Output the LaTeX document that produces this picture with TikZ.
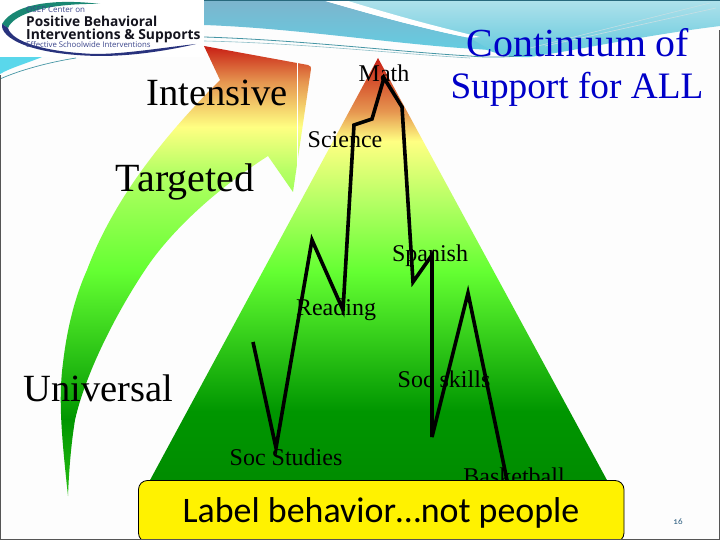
\documentclass[tikz,border=0pt]{standalone}
\usepackage{fontspec}
\setmainfont{Liberation Serif}
\newfontfamily\carlito[Numbers=OldStyle]{Carlito}
\newfontfamily\logofont{Open Sans}
\definecolor{pagebg}{RGB}{253,253,253}
\definecolor{edgegray}{RGB}{85,85,85}
\definecolor{titleblue}{RGB}{0,0,200}
\definecolor{pagenum}{RGB}{40,90,125}
\definecolor{logotext}{RGB}{20,20,30}
\definecolor{logotint}{RGB}{60,70,140}
\definecolor{logoteal}{RGB}{25,135,115}
\definecolor{logonavy}{RGB}{40,50,125}
\definecolor{cyanbit}{RGB}{90,215,235}
\definecolor{thinteal}{RGB}{70,150,165}
\definecolor{topedge}{RGB}{40,105,125}
\definecolor{sDark}{RGB}{0,140,0}
\definecolor{sGreen}{RGB}{0,150,0}
\definecolor{sLime}{RGB}{100,255,50}
\definecolor{sPale}{RGB}{180,255,100}
\definecolor{sYellow}{RGB}{255,255,130}
\definecolor{sOrange}{RGB}{230,150,80}
\definecolor{sRed}{RGB}{200,30,20}
\definecolor{sTip}{RGB}{40,190,20}
\definecolor{bA}{RGB}{100,205,225}
\definecolor{bB}{RGB}{125,180,205}
\definecolor{bC}{RGB}{95,200,220}
\definecolor{bD}{RGB}{175,225,235}
\pgfdeclareverticalshading{peakshade}{100bp}{
 color(0bp)=(sDark);
 color(25bp)=(sDark);
 color(33.3bp)=(sGreen);
 color(49.8bp)=(sLime);
 color(58bp)=(sPale);
 color(65.2bp)=(sYellow);
 color(68.7bp)=(sOrange);
 color(75bp)=(sRed);
 color(100bp)=(sRed)}
\pgfdeclareverticalshading{arrowshade}{100bp}{
 color(0bp)=(sTip);
 color(25bp)=(sTip);
 color(33.5bp)=(sGreen);
 color(50bp)=(sLime);
 color(61bp)=(sPale);
 color(66bp)=(sYellow);
 color(71bp)=(sOrange);
 color(75bp)=(sRed);
 color(100bp)=(sRed)}
\pgfdeclareverticalshading{bandleft}{100bp}{
 color(0bp)=(bA);
 color(25bp)=(bA);
 color(75bp)=(bB);
 color(100bp)=(bB)}
\pgfdeclareverticalshading{bandright}{100bp}{
 color(0bp)=(bC);
 color(25bp)=(bC);
 color(75bp)=(bD);
 color(100bp)=(bD)}
\tikzset{
 biglabel/.style={anchor=base,inner sep=0pt,font=\fontsize{38.5}{40}\selectfont,text=black},
 smalllabel/.style={anchor=base,inner sep=0pt,font=\fontsize{24}{26}\selectfont,text=black},
 peakline/.style={draw=black,line width=3.6pt,line join=miter,miter limit=6},
 logotxt/.style={anchor=base west,inner sep=0pt,text=logotext}
}
\begin{document}
\begin{tikzpicture}[x=1pt,y=-1pt]
\useasboundingbox (0,0) rectangle (720,540);
\fill[pagebg] (0,0) rectangle (720,540);
% top bands
\shade[shading=bandright] (340,0) -- (720,0) -- (720,26) .. controls (640,36) and (590,48) .. (530,57) .. controls (510,58) and (480,52) .. (460,34) -- cycle;
\shade[shading=bandleft] (204,0) -- (322,0) .. controls (370,14) and (420,28) .. (470,38) -- (490,50) -- (460,48) .. controls (380,42) and (290,28) .. (204,25) -- cycle;
\fill[white] (322,0) -- (345,0) .. controls (390,14) and (430,25) .. (480,37) -- (470,38) .. controls (420,28) and (370,14) .. (322,0) -- cycle;
\draw[thinteal,line width=0.8pt] (204,37) .. controls (300,40) and (400,52) .. (470,56) .. controls (490,58) and (510,57) .. (530,55);
\draw[thinteal!60,line width=0.6pt] (204,41) .. controls (300,43) and (400,54) .. (470,58);
\draw[white!70!thinteal,line width=0.6pt] (530,48) -- (710,3);
\draw[white!70!thinteal,line width=0.6pt] (545,46) -- (716,8);
\fill[topedge] (204,0) rectangle (720,1.5);
% lower left swoosh
\fill[cyanbit] (0,57) -- (42,57) .. controls (25,64) and (10,68) .. (0,74) -- cycle;
\draw[thinteal,line width=0.7pt] (0,79) .. controls (20,70) and (50,62) .. (76,58);
% logo
\fill[white] (0,0) rectangle (204,57);
\fill[logoteal] (100,4) .. controls (60,-1) and (15,2) .. (2,24) -- (8,28) .. controls (14,13) and (50,3) .. (100,4) -- cycle;
\fill[logonavy] (2,24) .. controls (0,38) and (30,55) .. (100,56) .. controls (135,56) and (170,50) .. (196,44) .. controls (160,48) and (125,54) .. (95,54) .. controls (45,52) and (12,42) .. (8,28) -- cycle;
\node[logotxt,font=\logofont\fontsize{8}{9}\selectfont,text=logotint] (logoa) at (26,13) {OSEP Center on};
\node[logotxt,font=\logofont\fontsize{13.7}{15}\selectfont\bfseries] (logob) at (26,27) {Positive Behavioral};
\node[logotxt,font=\logofont\fontsize{13.9}{15}\selectfont\bfseries] (logoc) at (26,39.5) {Interventions \& Supports};
\node[logotxt,font=\logofont\fontsize{7.8}{8}\selectfont,text=logotint] (logod) at (26,48) {Effective Schoolwide Interventions};
% arrow
\shade[shading=arrowshade] (68,496) .. controls (62,440) and (58,400) .. (63,363) .. controls (68,320) and (78,290) .. (87,270) .. controls (115,195) and (170,130) .. (220,80) -- (204,46) -- (308,65) .. controls (311,66) and (311,67) .. (311,69) -- (293,192) -- (268,156) .. controls (215,190) and (170,232) .. (145,270) .. controls (115,315) and (85,375) .. (75,420) .. controls (71,445) and (69,470) .. (68,496) -- cycle;
\draw[white,line width=0.7pt] (297,63) -- (297,188);
% peak
\shade[shading=peakshade] (378,58) -- (608,482) -- (149,482) -- cycle;
% zigzag
\coordinate (z1) at (253,342);
\coordinate (z2) at (276,448);
\coordinate (z3) at (312,240);
\coordinate (z4) at (343,310);
\coordinate (z5) at (354,125);
\coordinate (z6) at (372,119);
\coordinate (z7) at (384,78);
\coordinate (z8) at (402,107);
\coordinate (z9) at (413,282);
\coordinate (z10) at (432,255);
\coordinate (z11) at (432,437);
\coordinate (z12) at (468,293);
\coordinate (z13) at (508,485);
\draw[peakline] (z1) -- (z2) -- (z3) -- (z4) -- (z5) -- (z6) -- (z7) -- (z8) -- (z9) -- (z10) -- (z11) -- (z12) -- (z13);
% labels
\node[biglabel] (intensive) at (217,105.5) {Intensive};
\node[biglabel,font=\fontsize{40}{42}\selectfont] (targeted) at (185,191.5) {Targeted};
\node[biglabel] (universal) at (98.5,401) {Universal};
\node[biglabel,font=\fontsize{39.8}{42}\selectfont,text=titleblue] (title1) at (578,56.5) {Continuum of};
\node[biglabel,font=\fontsize{37.3}{40}\selectfont,text=titleblue] (title2) at (577,98.5) {Support for ALL};
\node[smalllabel] (math) at (384,81.5) {Math};
\node[smalllabel] (science) at (345,147.5) {Science};
\node[smalllabel] (spanish) at (430,261) {Spanish};
\node[smalllabel] (reading) at (336,315) {Reading};
\node[smalllabel] (socskills) at (444,387) {Soc skills};
\node[smalllabel] (socstudies) at (286,465) {Soc Studies};
\node[smalllabel] (basketball) at (514,484) {Basketball};
% yellow box
\draw[draw=black,fill=yellow,line width=0.8pt,rounded corners=9pt] (138.5,480.5) rectangle (624,542);
\node[anchor=base,inner sep=0pt,font=\carlito\fontsize{35.9}{38}\selectfont] (msg) at (381,522) {Label behavior…not people};
\node[anchor=base,inner sep=0pt,font=\carlito\fontsize{9}{10}\selectfont,text=pagenum] (pagenumber) at (678,524.5) {16};
% border
\draw[edgegray,line width=1pt] (0.5,75) -- (0.5,539.5) -- (719.5,539.5) -- (719.5,30);
\end{tikzpicture}
\end{document}
